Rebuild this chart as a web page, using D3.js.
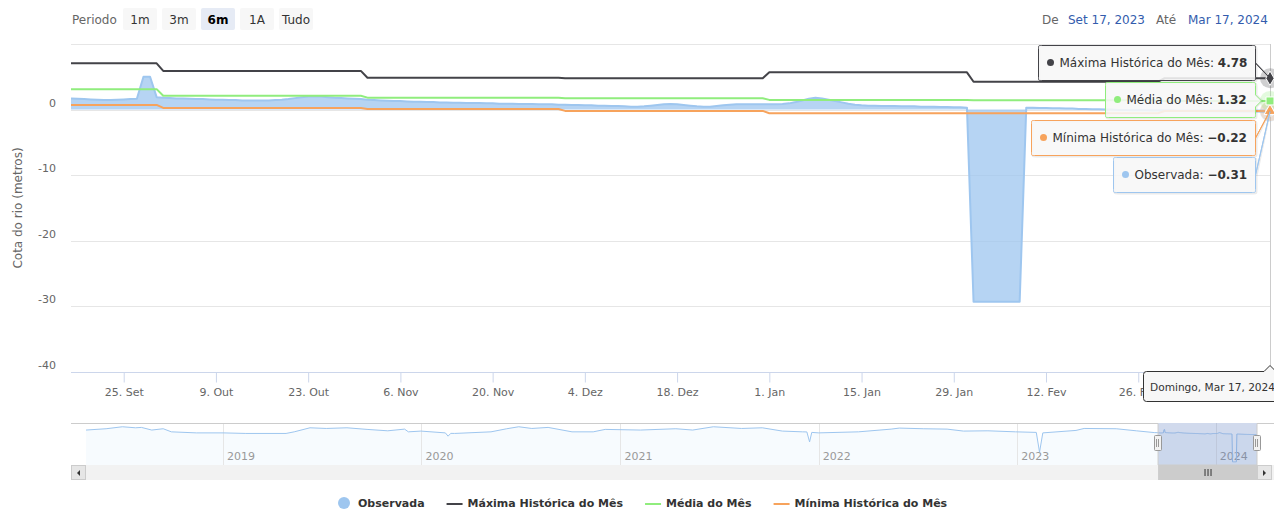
<!DOCTYPE html>
<html><head><meta charset="utf-8">
<script src="https://cdn.jsdelivr.net/npm/d3@7/dist/d3.min.js"></script>
<style>
body{margin:0;background:#fff;}
svg{font-family:"DejaVu Sans",sans-serif;display:block;}
</style>
</head><body>
<svg id="c" width="1274" height="509"></svg>
<script>
// ---------------- DATA ----------------
const startDate = "2023-09-17";
// Monthly reference lines (Sep 2023 .. Mar 2024)
const months   = ["2023-09","2023-10","2023-11","2023-12","2024-01","2024-02","2024-03"];
const maxHist  = [7.05, 5.9, 4.86, 4.77, 5.68, 4.25, 4.78];
const mediaMes = [3.12, 2.1, 1.82, 1.72, 1.48, 1.44, 1.32];
const minHist  = [0.72, 0.25, 0.09, -0.2, -0.56, -0.56, -0.22];
// Daily observed level, Sep 17 2023 .. Mar 17 2024
const observada = [
  // Sep 17-30
  1.7,1.65,1.6,1.55,1.5,1.45,1.45,1.5,1.55,1.6,1.65,5.0,5.0,1.9,
  // Oct
  1.8,1.75,1.7,1.7,1.65,1.6,1.6,1.55,1.5,1.5,1.45,1.45,1.4,1.4,1.4,
  1.4,1.4,1.45,1.5,1.6,1.75,1.9,2.0,2.05,2.0,1.9,1.8,1.75,1.7,1.65,1.6,
  // Nov
  1.5,1.45,1.4,1.35,1.3,1.3,1.25,1.2,1.2,1.15,
  1.15,1.1,1.1,1.05,1.05,1.0,1.0,1.0,0.95,0.95,
  0.9,0.9,0.9,0.85,0.85,0.85,0.8,0.8,0.8,0.75,
  // Dec
  0.75,0.7,0.7,0.65,0.65,0.6,0.6,0.55,0.55,0.5,
  0.45,0.45,0.5,0.6,0.7,0.8,0.85,0.8,0.7,0.6,
  0.5,0.45,0.45,0.55,0.65,0.75,0.8,0.8,0.8,0.8,0.8,
  // Jan
  0.8,0.8,0.85,0.95,1.15,1.4,1.65,1.8,1.7,1.5,
  1.3,1.1,0.9,0.75,0.65,0.6,0.6,0.55,0.55,0.55,
  0.5,0.5,0.5,0.45,0.45,0.45,0.4,0.4,0.35,0.35,0.3,
  // Feb
  -29.3,-29.3,-29.3,-29.3,-29.3,-29.3,-29.3,-29.3,
  0.3,0.3,0.25,0.25,0.2,0.2,0.15,0.15,0.1,0.1,
  0.05,0.05,0.0,0.0,-0.05,-0.05,-0.1,-0.1,-0.1,-0.15,-0.15,
  // Mar 1-17
  -0.15,-0.15,-0.2,-0.2,-0.2,-0.2,-0.25,-0.25,-0.25,-0.25,
  -0.3,-0.3,-0.3,-0.3,-0.3,-0.31,-0.31
];
// Navigator history (before the 6-month window)
const histDates = ["2018-04-24","2018-05-31","2018-06-30","2018-07-24","2018-08-04","2018-08-23","2018-09-13","2018-09-28","2018-11-13",
  "2019-01-01","2019-02-12","2019-04-27","2019-05-12","2019-06-10","2019-07-10","2019-08-17","2019-09-23","2019-10-31","2019-12-01","2019-12-08","2019-12-31",
  "2020-02-14","2020-02-19","2020-02-24","2020-03-02","2020-05-08","2020-06-06","2020-06-28","2020-07-22","2020-08-21","2020-10-04","2020-11-12","2020-12-04",
  "2021-02-07","2021-04-13","2021-05-14","2021-06-21","2021-08-12","2021-09-19","2021-10-26","2021-12-02","2021-12-10","2021-12-15","2021-12-19",
  "2022-01-01","2022-03-15","2022-05-14","2022-05-29","2022-07-12","2022-08-25","2022-09-24","2022-11-08","2022-12-29",
  "2023-02-05","2023-02-11","2023-02-17","2023-04-19","2023-05-04","2023-07-02","2023-08-08","2023-09-10"];
const histVals = [4.5,5.9,8.0,6.9,7.3,4.5,5.9,2.6,1.5,
  1.5,0.9,0.9,2.6,6.9,6.2,6.9,5.2,3.7,5.5,2.6,3.4,
  1.5,-2.0,1.0,0.9,2.6,5.9,8.0,6.2,7.3,2.6,2.6,5.2,
  4.5,5.9,4.5,8.0,6.2,6.9,3.4,2.6,2.5,-8.1,2.0,
  1.5,2.6,5.5,6.6,5.9,5.5,3.4,3.7,2.6,
  2.0,-19.0,1.5,4.1,6.2,5.9,3.7,1.8];
const yTicks = [0,-10,-20,-30,-40];
const gridTicks = [10,0,-10,-20,-30];
const rangeButtons = ["1m","3m","6m","1A","Tudo"];
const selectedButton = "6m";
const seriesNames = ["Observada","Máxima Histórica do Mês","Média do Mês","Mínima Histórica do Mês"];
const seriesColors = ["#9ec6ef","#434348","#90ed7d","#f7a35c"];

// ---------------- SETUP ----------------
const svg = d3.select("#c");
const P = {l:71, r:1270, t:44, b:372};
const parse = d3.utcParse("%Y-%m-%d");
const d0 = parse(startDate);
const days = observada.map((v,i)=>d3.utcDay.offset(d0,i));
const lastDay = days[days.length-1];
const mFmt = d3.utcFormat("%Y-%m");
const monthVal = arr => days.map(d=>({date:d, v:arr[months.indexOf(mFmt(d))]}));
const obsData = days.map((d,i)=>({date:d, v:observada[i]}));
const maxData = monthVal(maxHist), medData = monthVal(mediaMes), minData = monthVal(minHist);

const x = d3.scaleUtc().domain([days[0], lastDay]).range([P.l,P.r]);
const y = d3.scaleLinear().domain([-40,10]).range([P.b,P.t]);

const pt = d3.timeFormatLocale({
  dateTime:"%A, %e de %B de %Y. %X", date:"%d/%m/%Y", time:"%H:%M:%S", periods:["AM","PM"],
  days:["Domingo","Segunda","Terça","Quarta","Quinta","Sexta","Sábado"],
  shortDays:["Dom","Seg","Ter","Qua","Qui","Sex","Sáb"],
  months:["Janeiro","Fevereiro","Março","Abril","Maio","Junho","Julho","Agosto","Setembro","Outubro","Novembro","Dezembro"],
  shortMonths:["Jan","Fev","Mar","Abr","Mai","Jun","Jul","Ago","Set","Out","Nov","Dez"]
});
const tickFmt = pt.utcFormat("%-d. %b");
const rangeFmt = pt.utcFormat("%b %-d, %Y");
const headFmt = pt.utcFormat("%A, %b %-d, %Y");

// ---------------- RANGE SELECTOR ----------------
svg.append("text").attr("x",72).attr("y",24).attr("font-size",12).attr("fill","#666").text("Periodo");
let bx = 123;
rangeButtons.forEach(b=>{
  const sel = b===selectedButton;
  svg.append("rect").attr("x",bx).attr("y",8).attr("width",34).attr("height",22).attr("rx",2)
     .attr("fill", sel?"#e6ebf5":"#f7f7f7");
  svg.append("text").attr("x",bx+17).attr("y",24).attr("text-anchor","middle").attr("font-size",12)
     .attr("font-weight",sel?"bold":"normal").attr("fill",sel?"#000":"#333").text(b);
  bx += 39;
});
svg.append("text").attr("x",1042).attr("y",24).attr("font-size",12).attr("fill","#666").text("De");
svg.append("text").attr("x",1068).attr("y",24).attr("font-size",12).attr("fill","#335cad").text(rangeFmt(days[0]));
svg.append("text").attr("x",1156).attr("y",24).attr("font-size",12).attr("fill","#666").text("Até");
svg.append("text").attr("x",1188).attr("y",24).attr("font-size",12).attr("fill","#335cad").text(rangeFmt(lastDay));

// ---------------- GRID & AXES ----------------
svg.append("g").selectAll("line").data(gridTicks).join("line")
  .attr("x1",P.l).attr("x2",P.r).attr("y1",d=>Math.round(y(d))+0.5).attr("y2",d=>Math.round(y(d))+0.5)
  .attr("stroke","#e6e6e6");
svg.append("g").selectAll("text").data(yTicks).join("text")
  .attr("x",56).attr("y",d=>y(d)-3).attr("text-anchor","end").attr("font-size",11).attr("fill","#666")
  .text(d=>String(d));
svg.append("text").attr("transform","translate(22,208) rotate(-90)").attr("text-anchor","middle")
  .attr("font-size",12).attr("fill","#666").text("Cota do rio (metros)");

// ticks every 14 days; the last one (under the crosshair label) is hidden in the reference
const xTicks = d3.utcDay.range(parse("2023-09-25"), parse("2024-03-01"), 14);
const xAxis = svg.append("g").attr("transform",`translate(0,${P.b+0.5})`)
  .call(d3.axisBottom(x).tickValues(xTicks).tickFormat(tickFmt).tickSize(10).tickPadding(6).tickSizeOuter(0));
xAxis.select(".domain").attr("stroke","#ccd6eb").attr("d",`M${P.l},0H${P.r+2}`);
xAxis.selectAll(".tick line").attr("stroke","#ccd6eb");
xAxis.selectAll(".tick text").attr("fill","#666").attr("font-size",11).attr("font-family","DejaVu Sans, sans-serif");

// ---------------- SERIES ----------------
svg.append("clipPath").attr("id","clip").append("rect")
  .attr("x",P.l).attr("y",P.t-2).attr("width",P.r-P.l+1).attr("height",P.b-P.t+4);
const gS = svg.append("g").attr("clip-path","url(#clip)");
gS.append("path").datum(obsData)
  .attr("d",d3.area().x(d=>x(d.date)).y0(y(0)).y1(d=>y(d.v)))
  .attr("fill",seriesColors[0]).attr("fill-opacity",0.75);
const line = d3.line().x(d=>x(d.date)).y(d=>y(d.v));
gS.append("path").datum(obsData).attr("d",line).attr("fill","none").attr("stroke",seriesColors[0]).attr("stroke-width",2).attr("stroke-linejoin","round");
[[maxData,1],[medData,2],[minData,3]].forEach(([dd,i])=>{
  gS.append("path").datum(dd).attr("d",line).attr("fill","none").attr("stroke",seriesColors[i])
    .attr("stroke-width",2).attr("stroke-linejoin","round");
});

// crosshair
svg.append("line").attr("x1",x(lastDay)+0.5).attr("x2",x(lastDay)+0.5).attr("y1",P.t).attr("y2",P.b)
  .attr("stroke","#cccccc").attr("stroke-width",1);

// hover markers
const lastVals = [observada[observada.length-1], maxHist[maxHist.length-1], mediaMes[mediaMes.length-1], minHist[minHist.length-1]];
const mx = x(lastDay);
const symbols = [d3.symbolCircle, d3.symbolDiamond, d3.symbolSquare, d3.symbolTriangle];
[0,3,2,1].forEach(i=>{
  svg.append("circle").attr("cx",mx).attr("cy",y(lastVals[i])).attr("r",10)
    .attr("fill",seriesColors[i]).attr("fill-opacity",0.25);
});
[0,3,2,1].forEach(i=>{
  svg.append("path").attr("transform",`translate(${mx},${y(lastVals[i])})`)
    .attr("d",d3.symbol().type(symbols[i]).size(i===2?64:60)()).attr("fill",seriesColors[i])
    .attr("stroke","#fff").attr("stroke-width",1);
});

// ---------------- TOOLTIPS ----------------
function callout(bx,by,w,h,r,ax,ay){
  let p=[['M',bx+r,by],['L',bx+w-r,by],['C',bx+w,by,bx+w,by,bx+w,by+r],['L',bx+w,by+h-r],
    ['C',bx+w,by+h,bx+w,by+h,bx+w-r,by+h],['L',bx+r,by+h],['C',bx,by+h,bx,by+h,bx,by+h-r],
    ['L',bx,by+r],['C',bx,by,bx,by,bx+r,by]];
  if(ax>bx+w){
    const safe=r+6;
    if(ay>by+safe && ay<by+h-safe){
      p.splice(3,1,['L',bx+w,ay-6],['L',bx+w+6,ay],['L',bx+w,ay+6],['L',bx+w,by+h-r]);
    } else {
      p.splice(3,1,['L',bx+w,by+h/2],['L',ax,ay],['L',bx+w,by+h/2],['L',bx+w,by+h-r]);
    }
  }
  return p.map(s=>s[0]+s.slice(1).map(v=>(+v).toFixed(1)).join(' ')).join(' ')+'Z';
}
const vfmt = d3.format(".2f");
const tipTops = [157,45,82,120];
const tipRight = 1255.5, tipH = 35;
[1,2,3,0].forEach(i=>{
  const g = svg.append("g");
  const path = g.append("path");
  const t = g.append("text").attr("y",tipTops[i]+22).attr("font-size",12).attr("fill","#333");
  t.append("tspan").text(seriesNames[i]+": ");
  t.append("tspan").attr("font-weight","bold").text(vfmt(lastVals[i]));
  const tw = t.node().getComputedTextLength();
  const left = Math.round(tipRight - (tw + 30)) + 0.5;
  t.attr("x",left+21);
  g.append("circle").attr("cx",left+12).attr("cy",tipTops[i]+17.5).attr("r",3.5).attr("fill",seriesColors[i]);
  path.attr("d",callout(left,tipTops[i]+0.5,tipRight-left,tipH,3,mx,y(lastVals[i])))
    .attr("fill","rgba(247,247,247,0.88)").attr("stroke",seriesColors[i]).attr("stroke-width",1);
  g.insert("path",":first-child").attr("d",callout(left+1,tipTops[i]+1.5,tipRight-left,tipH,3,mx,y(lastVals[i])))
    .attr("fill","none").attr("stroke","rgba(0,0,0,0.08)").attr("stroke-width",2);
});

// crosshair label
(function(){
  const g = svg.append("g");
  const t = g.append("text").attr("x",1150).attr("y",391).attr("font-size",10.6).attr("fill","#333").text(headFmt(lastDay));
  const tw = t.node().getComputedTextLength();
  const L=1143.5, T=371.5, B=401.5, R=L+tw+16, ax=mx;
  g.insert("path",":first-child").attr("d",`M${L+3},${T}L${ax-6},${T}L${ax},${T-6}L${ax+6},${T}L${R-3},${T}Q${R},${T} ${R},${T+3}L${R},${B-3}Q${R},${B} ${R-3},${B}L${L+3},${B}Q${L},${B} ${L},${B-3}L${L},${T+3}Q${L},${T} ${L+3},${T}Z`)
    .attr("fill","#f7f7f7").attr("stroke","#333").attr("stroke-width",1);
})();

// ---------------- NAVIGATOR ----------------
const navTop=423, navBot=465;
const navData = histDates.map((d,i)=>({date:parse(d), v:histVals[i]})).concat(obsData);
const nx = d3.scaleUtc().domain([navData[0].date, lastDay]).range([86,1257]);
const ny = d3.scaleLinear().domain([-30,12]).range([462.5,navTop]);
svg.append("path").datum(navData)
  .attr("d",d3.area().x(d=>nx(d.date)).y0(navBot).y1(d=>ny(d.v)))
  .attr("fill","#7cb5ec").attr("fill-opacity",0.06);
const years = d3.utcYear.range(d3.utcYear.ceil(navData[0].date), lastDay);
svg.append("g").selectAll("line").data(years).join("line")
  .attr("x1",d=>Math.round(nx(d))+0.5).attr("x2",d=>Math.round(nx(d))+0.5).attr("y1",navTop).attr("y2",navBot)
  .attr("stroke","#e6e6e6");
svg.append("g").selectAll("text").data(years).join("text")
  .attr("x",d=>nx(d)+4).attr("y",460).attr("font-size",11).attr("fill","#999").text(d3.utcFormat("%Y"));
svg.append("path").datum(navData).attr("d",d3.line().x(d=>nx(d.date)).y(d=>ny(d.v)))
  .attr("fill","none").attr("stroke","#9ec6ef").attr("stroke-width",1);
const s0 = nx(days[0]), s1 = nx(lastDay);
svg.append("rect").attr("x",s0).attr("y",navTop).attr("width",s1-s0).attr("height",navBot-navTop)
  .attr("fill","rgba(102,133,194,0.3)");
svg.append("path").attr("d",`M71,${navTop+0.5}H${s0}V${navBot}H${s1}V${navTop+0.5}H1274`)
  .attr("fill","none").attr("stroke","#cccccc");
[s0,s1].forEach(hx=>{
  svg.append("rect").attr("x",Math.round(hx-4)+0.5).attr("y",435.5).attr("width",7).attr("height",15)
    .attr("fill","#f2f2f2").attr("stroke","#999").attr("rx",1);
  [-1,1].forEach(o=>svg.append("line").attr("x1",Math.round(hx)+o-0.5).attr("x2",Math.round(hx)+o-0.5)
    .attr("y1",439).attr("y2",447).attr("stroke","#999"));
});
// scrollbar
svg.append("rect").attr("x",71).attr("y",465).attr("width",1203).attr("height",15).attr("fill","#f2f2f2");
svg.append("rect").attr("x",s0).attr("y",465).attr("width",s1-s0).attr("height",15).attr("fill","#cccccc");
[-3,0,3].forEach(o=>svg.append("line").attr("x1",(s0+s1)/2+o+0.5).attr("x2",(s0+s1)/2+o+0.5)
  .attr("y1",469).attr("y2",476).attr("stroke","#333"));
svg.append("rect").attr("x",71.5).attr("y",465.5).attr("width",14).attr("height",14).attr("fill","#e6e6e6").attr("stroke","#cccccc");
svg.append("rect").attr("x",1257.5).attr("y",465.5).attr("width",14).attr("height",14).attr("fill","#e6e6e6").attr("stroke","#cccccc");
svg.append("path").attr("d","M80,470L80,476L77,473Z").attr("fill","#333");
svg.append("path").attr("d","M1263,470L1263,476L1266,473Z").attr("fill","#333");

// ---------------- LEGEND ----------------
let lx = 337;
seriesNames.forEach((n,i)=>{
  if(i===0){
    svg.append("circle").attr("cx",lx+7).attr("cy",503).attr("r",6).attr("fill",seriesColors[0]);
  } else {
    svg.append("line").attr("x1",lx).attr("x2",lx+16).attr("y1",504).attr("y2",504)
      .attr("stroke",seriesColors[i]).attr("stroke-width",2);
  }
  const t = svg.append("text").attr("x",lx+21).attr("y",507).attr("font-size",11).attr("font-weight","bold")
    .attr("fill","#333").text(n);
  lx += 21 + t.node().getComputedTextLength() + 22;
});
</script>
</body></html>
